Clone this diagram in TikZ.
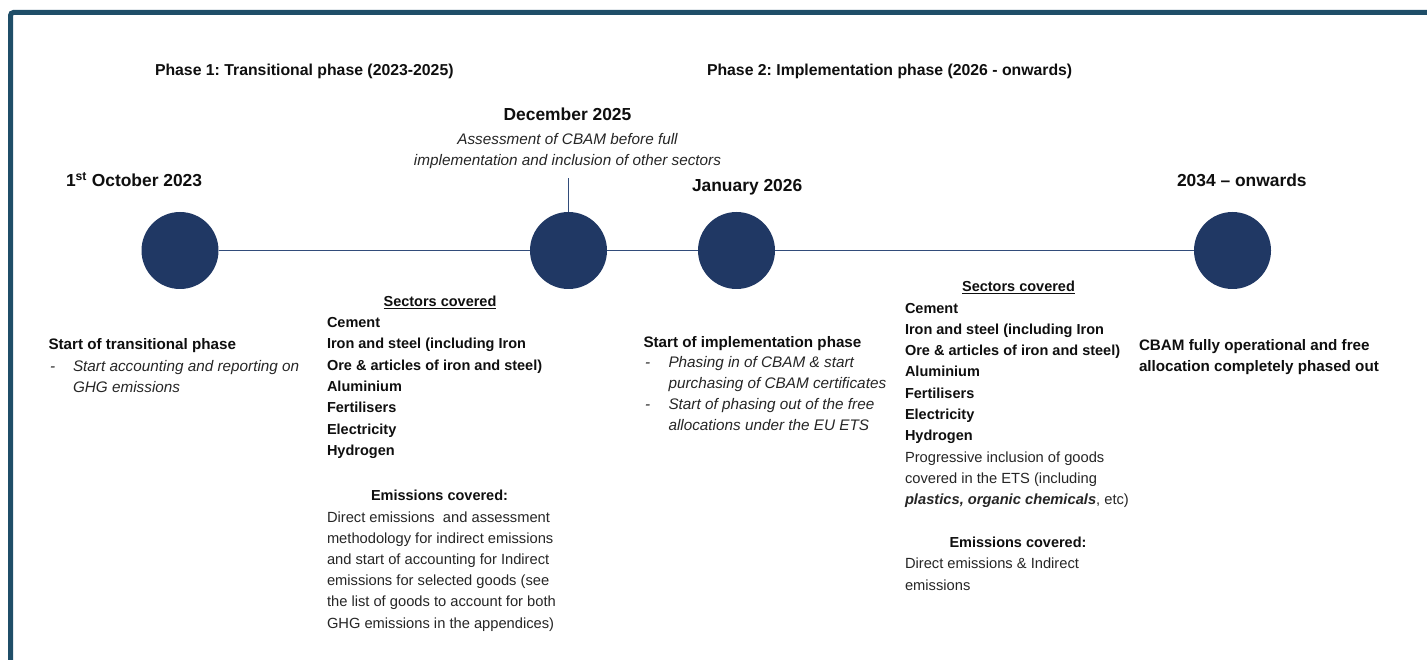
\documentclass[tikz,border=0pt]{standalone}
\usepackage{fontspec}
\setmainfont{Liberation Sans}
\frenchspacing

\definecolor{framecol}{RGB}{31,78,104}
\definecolor{dotcol}{RGB}{32,56,100}
\definecolor{rulecol}{RGB}{50,76,122}
\definecolor{inkbf}{RGB}{15,15,15}
\definecolor{ink}{RGB}{38,38,38}

\tikzset{
  txt/.style={inner sep=0pt, outer sep=0pt, text=inkbf, anchor=base west},
  ctxt/.style={inner sep=0pt, outer sep=0pt, text=inkbf, anchor=base},
  phasehead/.style={font=\fontsize{15.8}{19}\selectfont\bfseries},
  datehead/.style={font=\fontsize{17.4}{21}\selectfont\bfseries},
  eventhead/.style={font=\fontsize{15.2}{21.5}\selectfont\bfseries},
  listbf/.style={font=\fontsize{14.5}{21.3}\selectfont\bfseries},
  body/.style={font=\fontsize{14.7}{21.2}\selectfont, text=ink},
  note/.style={font=\fontsize{15.3}{21.4}\selectfont\itshape, text=ink},
  milestone/.style={circle, fill=dotcol, minimum size=77pt, inner sep=0pt, outer sep=0pt},
  timeline/.style={draw=rulecol, line width=1.3pt},
}

\begin{document}
\begin{tikzpicture}[x=1pt, y=-1pt]
  \useasboundingbox (0,0) rectangle (1427,660);
  \fill[white] (0,0) rectangle (1427,660);

  % open frame: left and top edges
  \draw[framecol, line width=5pt, rounded corners=3pt]
    (10.5,670) -- (10.5,12.5) -- (1440,12.5);

  % phase headings
  \node[txt, phasehead] (ph1) at (155,76) {Phase 1: Transitional phase (2023-2025)};
  \node[txt, phasehead] (ph2) at (707,76) {Phase 2: Implementation phase (2026 - onwards)};

  % milestones
  \node[milestone] (m1) at (180,250.5) {};
  \node[milestone] (m2) at (568.5,250.5) {};
  \node[milestone] (m3) at (736.5,250.5) {};
  \node[milestone] (m4) at (1232.5,250.5) {};

  \draw[timeline] (m1) -- (m2);
  \draw[timeline] (m2) -- (m3);
  \draw[timeline] (m3) -- (m4);
  \coordinate (tick) at (568.5,178);
  \draw[timeline] (m2.north) -- (tick);

  % dates
  \node[txt, datehead] (d1) at (66,187) {1\textsuperscript{st} October 2023};
  \node[ctxt, datehead] (d2) at (567.5,120.5) {December 2025};
  \node[ctxt, note] (d2note) at (567.5,144.5)
    {\parbox[t]{330pt}{\centering Assessment of CBAM before full\\
     implementation and inclusion of other sectors}};
  \node[txt, datehead] (d3) at (692,192) {January 2026};
  \node[txt, datehead] (d4) at (1177,187) {2034 – onwards};

  % 2023 event
  \node[txt, eventhead] (e1) at (48.5,349.5) {Start of transitional phase};
  \node[txt, note] (e1dash) at (50,371) {-};
  \node[txt, note] (e1text) at (73,371)
    {\parbox[t]{260pt}{\raggedright Start accounting and reporting on\\ GHG emissions}};

  % transitional phase coverage
  \node[ctxt, listbf] (s1title) at (440,306.5) {\underline{Sectors covered}};
  \node[txt, listbf] (s1list) at (327,327.5)
    {\parbox[t]{260pt}{\raggedright Cement\\
      Iron and steel (including Iron\\
      Ore \& articles of iron and steel)\\
      Aluminium\\
      Fertilisers\\
      Electricity\\
      Hydrogen}};
  \node[ctxt, listbf] (em1title) at (439.5,500.5) {Emissions covered:};
  \node[txt, body] (em1text) at (327,522)
    {\parbox[t]{260pt}{\raggedright Direct emissions\ \ and assessment\\
      methodology for indirect emissions\\
      and start of accounting for Indirect\\
      emissions for selected goods (see\\
      the list of goods to account for both\\
      GHG emissions in the appendices)}};

  % 2026 event
  \node[txt, eventhead] (e3) at (643.5,347) {Start of implementation phase};
  \node[txt, note] (e3dash1) at (645,367) {-};
  \node[txt, note] (e3dash2) at (645,409.6) {-};
  \node[txt, note] (e3text) at (668.5,367)
    {\parbox[t]{260pt}{\raggedright\baselineskip=21.3pt Phasing in of CBAM \& start\\
      purchasing of CBAM certificates\\
      Start of phasing out of the free\\
      allocations under the EU ETS}};

  % implementation phase coverage
  \node[ctxt, listbf] (s2title) at (1018.5,292) {\underline{Sectors covered}};
  \node[txt, listbf] (s2list) at (905,313)
    {\parbox[t]{260pt}{\raggedright Cement\\
      Iron and steel (including Iron\\
      Ore \& articles of iron and steel)\\
      Aluminium\\
      Fertilisers\\
      Electricity\\
      Hydrogen\\
      {\mdseries\color{ink}\fontsize{14.7}{21.3}\selectfont Progressive inclusion of goods\\
      covered in the ETS (including\\
      \textbf{\textit{plastics, organic chemicals}}, etc)}}};
  \node[ctxt, listbf] (em2title) at (1018,547.5) {Emissions covered:};
  \node[txt, body] (em2text) at (905,568.5)
    {\parbox[t]{260pt}{\raggedright\baselineskip=21.5pt Direct emissions \& Indirect\\ emissions}};

  % 2034 event
  \node[txt, eventhead] (e4) at (1139,350)
    {\parbox[t]{300pt}{\raggedright CBAM fully operational and free\\
      allocation completely phased out}};
\end{tikzpicture}
\end{document}
